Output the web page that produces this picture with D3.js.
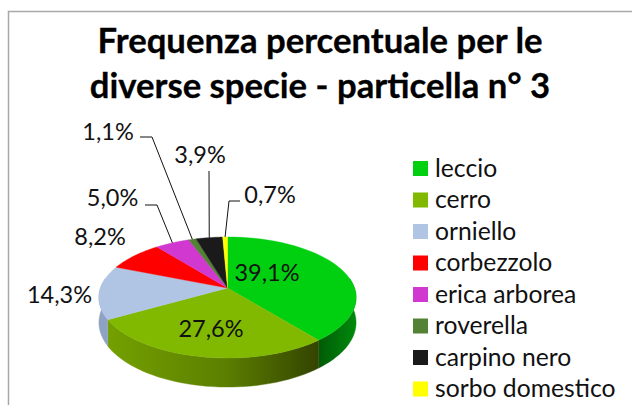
<!DOCTYPE html>
<html><head><meta charset="utf-8">
<style>html,body{margin:0;padding:0;background:#fff}svg{display:block}text{font-family:Lato,"Noto Sans",sans-serif;fill:#111}</style>
<script src="https://cdnjs.cloudflare.com/ajax/libs/d3/7.8.5/d3.min.js"></script>
</head><body><svg id="c" width="632" height="405"></svg>
<script>
const titleLines = ["Frequenza percentuale per le", "diverse specie - particella n° 3"];
const categories = ["leccio","cerro","orniello","corbezzolo","erica arborea","roverella","carpino nero","sorbo domestico"];
const values = [39.1,27.6,14.3,8.2,5.0,1.1,3.9,0.7];
const colors = ["#00d010","#80b900","#b0c4e4","#ff0000","#d038d0","#548235","#1a1a1a","#ffff00"];
const wallColors = ["#006a08","#6f9a00","#8ea3c4","#a00000","#902090","#3a5a20","#000","#aaa"];
const labels = ["39,1%","27,6%","14,3%","8,2%","5,0%","1,1%","3,9%","0,7%"];
const labelXY = [[267,273],[211,329],[59.5,295],[100,237],[112.5,198],[108,132],[200,155],[270,195]];
const leaders = [null,null,null,null,[[145,205],[157,205]],[[140,137],[152,137]],[[209,171]],[[240,201],[229,201]]];

const svg = d3.select("#c");
svg.append("path").attr("d","M8.5 405V11.5H632").attr("fill","none").attr("stroke","#a8a8a8").attr("stroke-width",1.5);
svg.selectAll("text.t").data(titleLines).join("text").attr("class","t")
  .attr("x",320).attr("y",(d,i)=>53+i*44.5).attr("text-anchor","middle")
  .attr("font-size",34.7).attr("font-weight",700).style("fill","#000").style("stroke","#000").style("stroke-width",0.3).text(d=>d);

const cx=227.5, cy=288, a=127, b=59, k=0.157, depth=24.5;
function proj(angle,r,down){
  const u=Math.sin(angle)*r, v=-Math.cos(angle)*r, s=1/(1-k*v);
  return [cx+a*u*s, cy+b*v*s+(down?depth*s:0)];
}
const pie=d3.pie().sort(null).value(d=>d)(values);
const line=d3.line();
const defs=svg.append("defs");
const g=defs.append("linearGradient").attr("id","cerroWall").attr("gradientUnits","userSpaceOnUse")
  .attr("x1",108).attr("x2",318).attr("y1",0).attr("y2",0);
g.append("stop").attr("offset",0).attr("stop-color","#74a000");
g.append("stop").attr("offset",0.55).attr("stop-color","#5c8000");
g.append("stop").attr("offset",1).attr("stop-color","#344400");
const g2=defs.append("linearGradient").attr("id","leccioWall").attr("gradientUnits","userSpaceOnUse")
  .attr("x1",318).attr("x2",356).attr("y1",0).attr("y2",0);
g2.append("stop").attr("offset",0).attr("stop-color","#005a06");
g2.append("stop").attr("offset",1).attr("stop-color","#008a0c");
const wallFill=i=>i===0?"url(#leccioWall)":i===1?"url(#cerroWall)":wallColors[i];

function arcAngles(p0,p1){return d3.range(0,41).map(i=>p0+(p1-p0)*i/40);}
const fromA=Math.PI/2-0.16, toA=3*Math.PI/2+0.16;
pie.forEach((p,i)=>{
  const s=Math.max(p.startAngle,fromA), e=Math.min(p.endAngle,toA);
  if(e<=s) return;
  const as=arcAngles(s,e);
  const pts=as.map(t=>proj(t,1,false)).concat(as.slice().reverse().map(t=>proj(t,1,true)));
  svg.append("path").attr("d",line(pts)+"Z").attr("fill",wallFill(i)).attr("stroke",wallFill(i)).attr("stroke-width",0.4);
});
pie.forEach((p,i)=>{
  const pts=[proj(0,0)].concat(arcAngles(p.startAngle,p.endAngle).map(t=>proj(t,1)));
  svg.append("path").attr("d",line(pts)+"Z").attr("fill",colors[i]).attr("stroke",colors[i]).attr("stroke-width",0.4);
});
pie.forEach((p,i)=>{
  if(!leaders[i]) return;
  const end=proj((p.startAngle+p.endAngle)/2,1);
  svg.append("path").attr("d",line(leaders[i].concat([end]))).attr("fill","none").attr("stroke","#111").attr("stroke-width",1);
});
svg.selectAll("text.l").data(labels).join("text").attr("class","l")
  .attr("x",(d,i)=>labelXY[i][0]).attr("y",(d,i)=>labelXY[i][1]).attr("dy","0.36em")
  .attr("text-anchor","middle").attr("font-size",23.5).text(d=>d);
const ly=d3.scalePoint().domain(categories).range([168.5,389]);
const lg=svg.selectAll("g.lg").data(categories).join("g").attr("class","lg").attr("transform",d=>`translate(413,${ly(d)})`);
lg.append("rect").attr("y",-7.5).attr("width",15).attr("height",15).attr("fill",(d,i)=>colors[i]);
lg.append("text").attr("x",22).attr("dy","0.34em").attr("font-size",24.7).text(d=>d);
</script></body></html>
